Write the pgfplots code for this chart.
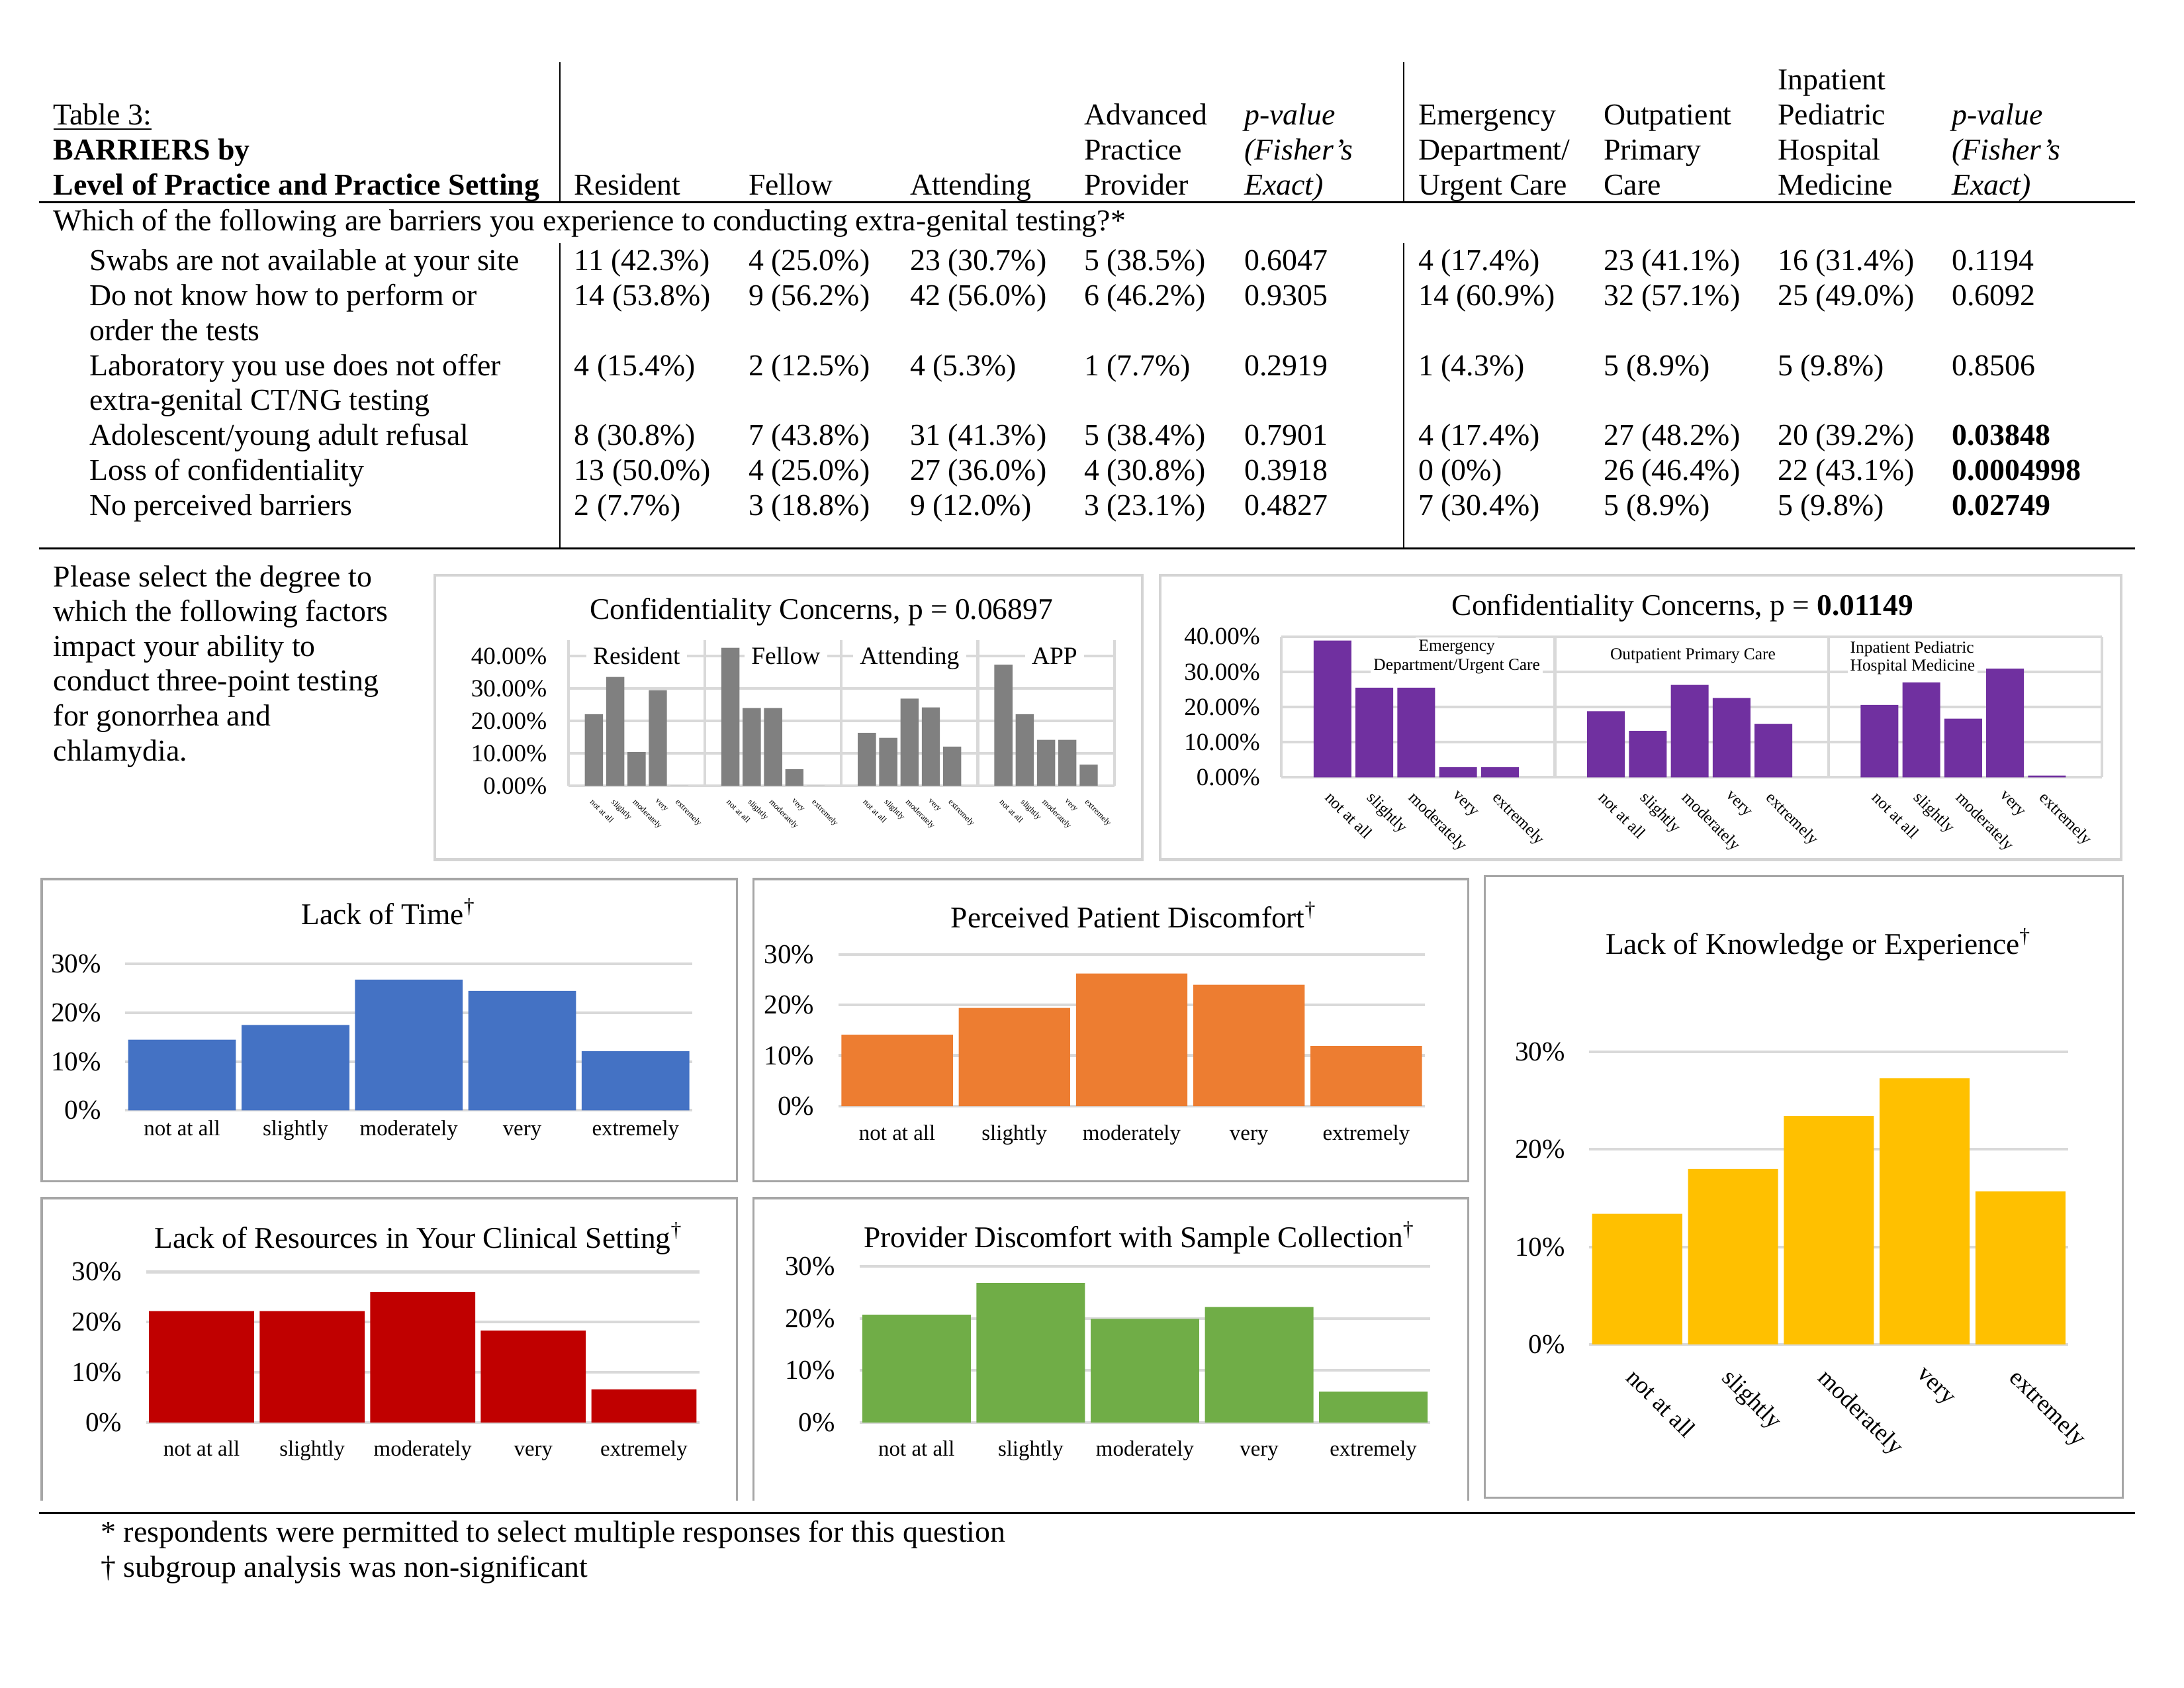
\documentclass[border=0pt]{standalone}
\usepackage{fontspec}
\setmainfont{Liberation Serif}
\usepackage{pgfplots}
\pgfplotsset{compat=1.18}
\definecolor{gridc}{HTML}{D9D9D9}
\definecolor{framec}{HTML}{A6A6A6}
\definecolor{framel}{HTML}{D4D4D4}
\definecolor{cgray}{HTML}{808080}
\definecolor{cpurple}{HTML}{7030A0}
\definecolor{cblue}{HTML}{4472C4}
\definecolor{corange}{HTML}{ED7D31}
\definecolor{cred}{HTML}{C00000}
\definecolor{cgreen}{HTML}{70AD47}
\definecolor{cyellow}{HTML}{FFC000}

\newcommand{\T}[3]{\node[anchor=base west,inner sep=0pt] at (#1,#2) {#3};}
\newcommand{\Ti}[3]{\node[anchor=base,inner sep=0pt,font=\fontsize{10.9}{13}\selectfont] at (#1,#2) {#3};}
\newcommand{\RowA}[6]{\T{412}{#1}{#2}\T{537}{#1}{#3}\T{653}{#1}{#4}\T{778}{#1}{#5}\T{893}{#1}{#6}}
\newcommand{\RowB}[5]{\T{1018}{#1}{#2}\T{1151}{#1}{#3}\T{1276}{#1}{#4}\T{1401}{#1}{#5}}

\pgfplotsset{
  mybase/.style={
    scale only axis, anchor=south west, clip=false,
    axis line style={draw=none}, major tick length=0pt, tick style={draw=none},
    ymajorgrids, major grid style={draw=gridc, line width=1pt},
    ymin=0,
    /pgf/number format/assume math mode=true,
    yticklabel style={anchor=east, inner sep=0pt},
  },
  b5/.style={
    ymax=30, xmin=-0.5, xmax=4.5, xtick={0,1,2,3,4},
    xticklabels={not at all,slightly,moderately,very,extremely},
    ytick={0,10,20,30}, yticklabel={\pgfmathprintnumber{\tick}\%},
    yticklabel style={font=\fontsize{9.9}{12}\selectfont, xshift=-8.6pt},
    xticklabel style={font=\fontsize{7.9}{9.5}\selectfont, anchor=base, inner sep=0pt},
  },
  conf/.style={
    ytick={0,10,20,30,40},
    yticklabel={\pgfmathprintnumber[fixed,fixed zerofill,precision=2]{\tick}\%},
    yticklabel style={font=\fontsize{8.9}{10.7}\selectfont, xshift=-7.6pt},
  },
}

\begin{document}
\fontsize{11}{12.7}\selectfont
\begin{tikzpicture}
\useasboundingbox (0pt,0pt) rectangle (792pt,-612pt);
\begin{scope}[x=0.5051pt,y=-0.5051pt]
% chart frames
\draw[framel,line width=1pt] (312,413) rectangle (820,617);
\draw[framel,line width=1pt] (833,413) rectangle (1523,617);
\draw[framec,line width=0.8pt] (30,631) rectangle (529,848);
\draw[framec,line width=0.8pt] (541,631) rectangle (1054,848);
\draw[framec,line width=0.8pt] (1066,629) rectangle (1524,1075);
\draw[framec,line width=0.8pt] (30,1077) -- (30,860) -- (529,860) -- (529,1077);
\draw[framec,line width=0.8pt] (541,1077) -- (541,860) -- (1054,860) -- (1054,1077);
% table rules
\draw[line width=0.75pt] (28,145.2) -- (1533,145.2);
\draw[line width=0.75pt] (28,393.8) -- (1533,393.8);
\draw[line width=0.75pt] (28,1086) -- (1533,1086);
\draw[line width=0.5pt] (402,44.6) -- (402,145.2);
\draw[line width=0.5pt] (402,174.6) -- (402,393.8);
\draw[line width=0.5pt] (1008,44.6) -- (1008,145.2);
\draw[line width=0.5pt] (1008,174.6) -- (1008,393.8);
% header
\T{38}{89.7}{\underline{Table 3:}}
\T{38}{114.8}{\textbf{BARRIERS by}}
\T{38}{139.9}{\textbf{Level of Practice and Practice Setting}}
\T{412}{139.9}{Resident}
\T{537}{139.9}{Fellow}
\T{653}{139.9}{Attending}
\T{778}{89.7}{Advanced}\T{778}{114.8}{Practice}\T{778}{139.9}{Provider}
\T{893}{89.7}{\textit{p-value}}\T{893}{114.8}{\textit{(Fisher’s}}\T{893}{139.9}{\textit{Exact)}}
\T{1018}{89.7}{Emergency}\T{1018}{114.8}{Department/}\T{1018}{139.9}{Urgent Care}
\T{1151}{89.7}{Outpatient}\T{1151}{114.8}{Primary}\T{1151}{139.9}{Care}
\T{1276}{64.6}{Inpatient}\T{1276}{89.7}{Pediatric}\T{1276}{114.8}{Hospital}\T{1276}{139.9}{Medicine}
\T{1401}{89.7}{\textit{p-value}}\T{1401}{114.8}{\textit{(Fisher’s}}\T{1401}{139.9}{\textit{Exact)}}
\T{38}{165.5}{Which of the following are barriers you experience to conducting extra-genital testing?*}
% rows
\T{64}{194.2}{Swabs are not available at your site}
\RowA{194.2}{11 (42.3\%)}{4 (25.0\%)}{23 (30.7\%)}{5 (38.5\%)}{0.6047}
\RowB{194.2}{4 (17.4\%)}{23 (41.1\%)}{16 (31.4\%)}{0.1194}
\T{64}{219.3}{Do not know how to perform or}
\RowA{219.3}{14 (53.8\%)}{9 (56.2\%)}{42 (56.0\%)}{6 (46.2\%)}{0.9305}
\RowB{219.3}{14 (60.9\%)}{32 (57.1\%)}{25 (49.0\%)}{0.6092}
\T{64}{244.4}{order the tests}
\T{64}{269.5}{Laboratory you use does not offer}
\RowA{269.5}{4 (15.4\%)}{2 (12.5\%)}{4 (5.3\%)}{1 (7.7\%)}{0.2919}
\RowB{269.5}{1 (4.3\%)}{5 (8.9\%)}{5 (9.8\%)}{0.8506}
\T{64}{294.6}{extra-genital CT/NG testing}
\T{64}{319.7}{Adolescent/young adult refusal}
\RowA{319.7}{8 (30.8\%)}{7 (43.8\%)}{31 (41.3\%)}{5 (38.4\%)}{0.7901}
\RowB{319.7}{4 (17.4\%)}{27 (48.2\%)}{20 (39.2\%)}{\textbf{0.03848}}
\T{64}{344.8}{Loss of confidentiality}
\RowA{344.8}{13 (50.0\%)}{4 (25.0\%)}{27 (36.0\%)}{4 (30.8\%)}{0.3918}
\RowB{344.8}{0 (0\%)}{26 (46.4\%)}{22 (43.1\%)}{\textbf{0.0004998}}
\T{64}{369.9}{No perceived barriers}
\RowA{369.9}{2 (7.7\%)}{3 (18.8\%)}{9 (12.0\%)}{3 (23.1\%)}{0.4827}
\RowB{369.9}{7 (30.4\%)}{5 (8.9\%)}{5 (9.8\%)}{\textbf{0.02749}}
% left paragraph
\T{38}{421}{Please select the degree to}
\T{38}{446}{which the following factors}
\T{38}{471}{impact your ability to}
\T{38}{496}{conduct three-point testing}
\T{38}{521}{for gonorrhea and}
\T{38}{546}{chlamydia.}
% chart titles
\Ti{589.7}{444.5}{Confidentiality Concerns, p = 0.06897}
\Ti{1208}{441.5}{Confidentiality Concerns, p = \textbf{0.01149}}
\Ti{279}{663.5}{Lack of Time\textsuperscript{†}}
\Ti{814}{665.8}{Perceived Patient Discomfort\textsuperscript{†}}
\Ti{1305.6}{684.8}{Lack of Knowledge or Experience\textsuperscript{†}}
\Ti{300.6}{895.7}{Lack of Resources in Your Clinical Setting\textsuperscript{†}}
\Ti{818}{895.3}{Provider Discomfort with Sample Collection\textsuperscript{†}}
% footnotes
\T{72}{1107}{* respondents were permitted to select multiple responses for this question}
\T{72}{1132}{† subgroup analysis was non-significant}
\end{scope}

% ---------- Confidentiality by level of practice ----------
\begin{axis}[mybase, conf, at={(206.081pt,-284.876pt)}, width=197.999pt, height=52.833pt,
  xmin=0, xmax=25.6, ymax=45,
  xtick={1.2,2.2,3.2,4.2,5.2,7.6,8.6,9.6,10.6,11.6,14,15,16,17,18,20.4,21.4,22.4,23.4,24.4},
  xticklabels={not at all,slightly,moderately,very,extremely,not at all,slightly,moderately,very,extremely,not at all,slightly,moderately,very,extremely,not at all,slightly,moderately,very,extremely},
  xticklabel style={yshift=-4.4pt, rotate=-45, anchor=north west, inner sep=0pt, font=\fontsize{3}{3.6}\selectfont},
]
\draw[gridc,line width=1pt] (axis cs:0,0) -- (axis cs:0,45);
\draw[gridc,line width=1pt] (axis cs:6.4,0) -- (axis cs:6.4,45);
\draw[gridc,line width=1pt] (axis cs:12.8,0) -- (axis cs:12.8,45);
\draw[gridc,line width=1pt] (axis cs:19.2,0) -- (axis cs:19.2,45);
\draw[gridc,line width=1pt] (axis cs:25.6,0) -- (axis cs:25.6,45);
\addplot[ybar, bar width=0.85, fill=cgray, draw=none] coordinates {
 (1.2,22.1) (2.2,33.6) (3.2,10.4) (4.2,29.5) (5.2,0)
 (7.6,42.6) (8.6,24.0) (9.6,24.0) (10.6,5.1) (11.6,0)
 (14,16.3) (15,14.8) (16,26.9) (17,24.2) (18,12.1)
 (20.4,37.4) (21.4,22.1) (22.4,14.2) (23.4,14.2) (24.4,6.5)};
\node[fill=white,inner xsep=2.5pt,inner ysep=1pt,anchor=base,font=\fontsize{9}{11}\selectfont] at (axis cs:3.2,37.5) {Resident};
\node[fill=white,inner xsep=2.5pt,inner ysep=1pt,anchor=base,font=\fontsize{9}{11}\selectfont] at (axis cs:10.2,37.5) {Fellow};
\node[fill=white,inner xsep=2.5pt,inner ysep=1pt,anchor=base,font=\fontsize{9}{11}\selectfont] at (axis cs:16.0,37.5) {Attending};
\node[fill=white,inner xsep=2.5pt,inner ysep=1pt,anchor=base,font=\fontsize{9}{11}\selectfont] at (axis cs:22.8,37.5) {APP};
\end{axis}

% ---------- Confidentiality by practice setting ----------
\begin{axis}[mybase, conf, at={(464.692pt,-281.846pt)}, width=297.504pt, height=51.015pt,
  xmin=0, xmax=19.6, ymax=40,
  xtick={1.22,2.22,3.22,4.22,5.22,7.753,8.753,9.753,10.753,11.753,14.287,15.287,16.287,17.287,18.287},
  xticklabels={not at all,slightly,moderately,very,extremely,not at all,slightly,moderately,very,extremely,not at all,slightly,moderately,very,extremely},
  xticklabel style={yshift=-4.5pt, rotate=-45, anchor=north west, inner sep=0pt, font=\fontsize{6}{7}\selectfont},
]
\draw[gridc,line width=1pt] (axis cs:0,0) -- (axis cs:0,40);
\draw[gridc,line width=1pt] (axis cs:6.533,0) -- (axis cs:6.533,40);
\draw[gridc,line width=1pt] (axis cs:13.067,0) -- (axis cs:13.067,40);
\draw[gridc,line width=1pt] (axis cs:19.6,0) -- (axis cs:19.6,40);
\addplot[ybar, bar width=0.9, fill=cpurple, draw=none] coordinates {
 (1.22,38.9) (2.22,25.5) (3.22,25.5) (4.22,2.9) (5.22,2.9)
 (7.753,18.8) (8.753,13.2) (9.753,26.3) (10.753,22.6) (11.753,15.2)
 (14.287,20.6) (15.287,27.0) (16.287,16.7) (17.287,30.9) (18.287,0.5)};
\node[fill=white,inner sep=1pt,anchor=base,font=\fontsize{6.1}{7}\selectfont] at (axis cs:4.19,35.9) {Emergency};
\node[fill=white,inner sep=1pt,anchor=base,font=\fontsize{6.1}{7}\selectfont] at (axis cs:4.19,30.5) {Department/Urgent Care};
\node[fill=white,inner sep=1pt,anchor=base,font=\fontsize{6.1}{7}\selectfont] at (axis cs:9.83,33.4) {Outpatient Primary Care};
\node[fill=white,inner sep=1pt,anchor=base west,font=\fontsize{6.1}{7}\selectfont] at (axis cs:13.51,35.4) {Inpatient Pediatric};
\node[fill=white,inner sep=1pt,anchor=base west,font=\fontsize{6.1}{7}\selectfont] at (axis cs:13.51,30.3) {Hospital Medicine};
\end{axis}

% ---------- Lack of Time ----------
\begin{axis}[mybase, b5, at={(45.459pt,-402.565pt)}, width=205.576pt, height=53.036pt,
  xticklabel style={yshift=-9.1pt}]
\addplot[ybar, bar width=0.95, fill=cblue, draw=none] coordinates {(0,14.5) (1,17.5) (2,26.8) (3,24.5) (4,12.1)};
\end{axis}

% ---------- Perceived Patient Discomfort ----------
\begin{axis}[mybase, b5, at={(304.070pt,-401.049pt)}, width=212.647pt, height=55.056pt,
  xticklabel style={yshift=-12.3pt}]
\addplot[ybar, bar width=0.95, fill=corange, draw=none] coordinates {(0,14.1) (1,19.4) (2,26.2) (3,24.0) (4,11.9)};
\end{axis}

% ---------- Lack of Knowledge or Experience ----------
\begin{axis}[mybase, b5, at={(576.319pt,-487.422pt)}, width=173.754pt, height=106.071pt,
  xticklabel style={yshift=-7.9pt, rotate=-45, anchor=north west, inner sep=0pt, font=\fontsize{8.8}{10.6}\selectfont}]
\addplot[ybar, bar width=0.94, fill=cyellow, draw=none] coordinates {(0,13.4) (1,18.0) (2,23.4) (3,27.3) (4,15.7)};
\end{axis}

% ---------- Lack of Resources ----------
\begin{axis}[mybase, b5, at={(53.036pt,-515.707pt)}, width=200.525pt, height=54.551pt,
  xticklabel style={yshift=-12.2pt}]
\addplot[ybar, bar width=0.95, fill=cred, draw=none] coordinates {(0,22.2) (1,22.2) (2,26.0) (3,18.3) (4,6.6)};
\end{axis}

% ---------- Provider Discomfort ----------
\begin{axis}[mybase, b5, at={(311.647pt,-515.707pt)}, width=207.091pt, height=56.571pt,
  xticklabel style={yshift=-12.1pt}]
\addplot[ybar, bar width=0.95, fill=cgreen, draw=none] coordinates {(0,20.7) (1,26.8) (2,19.9) (3,22.2) (4,5.9)};
\end{axis}
\end{tikzpicture}
\end{document}
